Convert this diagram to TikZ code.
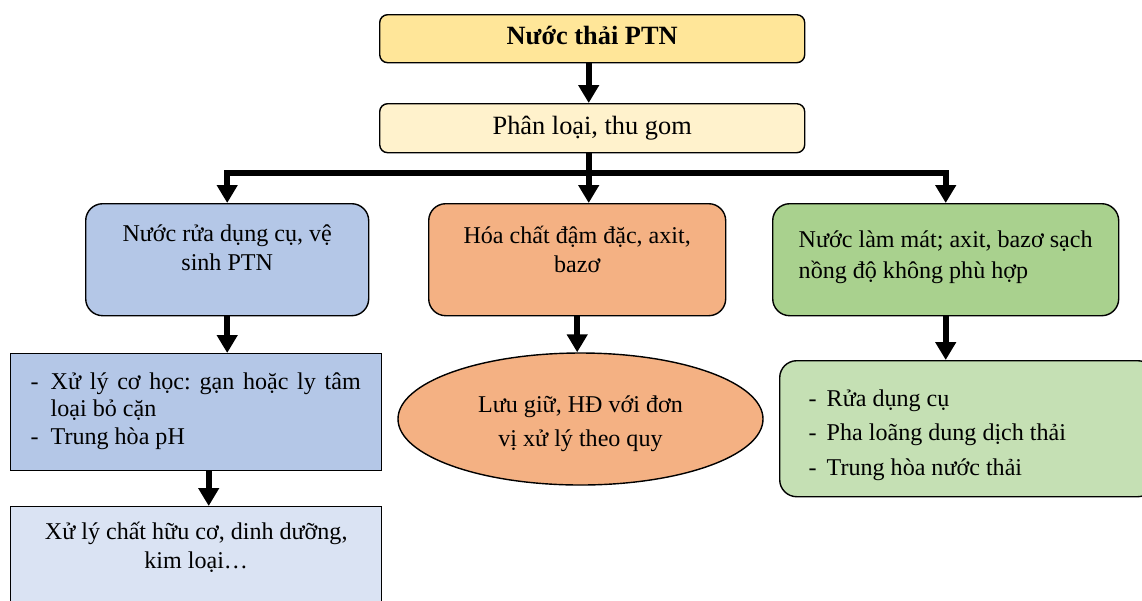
\documentclass[tikz,border=0pt]{standalone}
\usepackage{fontspec}
\setmainfont{Liberation Serif}
\usetikzlibrary{positioning, arrows.meta, calc, shapes.geometric}
\frenchspacing

\definecolor{titleyellow}{HTML}{FFE699}
\definecolor{paleyellow}{HTML}{FFF2CC}
\definecolor{washblue}{HTML}{B4C7E7}
\definecolor{paleblue}{HTML}{DAE3F3}
\definecolor{chemorange}{HTML}{F4B183}
\definecolor{coolgreen}{HTML}{A9D18E}
\definecolor{palegreen}{HTML}{C5E0B4}

% text of a box: width, height, first baseline, content
\newcommand{\boxtext}[4]{\parbox[c][#2][t]{#1}{\vspace*{\dimexpr#3-\baselineskip\relax}\prevdepth=0pt #4}}
% one line of a dash list
\newcommand{\dashitem}[2][0.4cm]{\par\hangindent=#1\noindent\makebox[#1][l]{-}#2}

\begin{document}
\begin{tikzpicture}[
        panel/.style={draw, line width=0.8pt, inner sep=0pt, anchor=north west},
        flow/.style={-{Triangle[length=0.36cm, width=0.4cm]}, line width=3.5pt},
        font=\fontsize{13.7}{16.5}\selectfont
    ]
        \useasboundingbox (0,0) rectangle (22.84,-12);

        % Top: waste water, sorting
        \node[panel, rounded corners=0.16cm, fill=titleyellow, font=\fontsize{15}{16.5}\selectfont] (top) at (7.58,-0.28)
            {\boxtext{8.5cm}{0.96cm}{0.6cm}{\centering\bfseries Nước thải PTN}};
        \node[panel, rounded corners=0.16cm, fill=paleyellow, font=\fontsize{15}{16.5}\selectfont] (sort) at (7.58,-2.06)
            {\boxtext{8.5cm}{0.98cm}{0.62cm}{\centering Phân loại, thu gom}};

        % Three kinds of waste water
        \node[panel, rounded corners=0.34cm, fill=washblue] (rinse) at (1.7,-4.06)
            {\boxtext{5.66cm}{2.24cm}{0.75cm}{\centering Nước rửa dụng cụ, vệ\\ sinh PTN}};
        \node[panel, rounded corners=0.34cm, fill=chemorange] (conc) at (8.56,-4.06)
            {\boxtext{5.94cm}{2.24cm}{0.79cm}{\centering Hóa chất đậm đặc, axit,\\ bazơ}};
        \node[panel, rounded corners=0.34cm, fill=coolgreen, font=\fontsize{13.7}{17.6}\selectfont] (cool) at (15.44,-4.06)
            {\boxtext{6.92cm}{2.24cm}{0.87cm}{\raggedright\leftskip=0.52cm Nước làm mát; axit, bazơ sạch\\ nồng độ không phù hợp}};

        % Left column: treatment
        \node[panel, fill=washblue, font=\fontsize{13.7}{15.6}\selectfont] (mech) at (0.2,-7.06)
            {\boxtext{7.42cm}{2.34cm}{0.71cm}{\leftskip=0.4cm \rightskip=0.42cm
                \dashitem{Xử lý cơ học: gạn hoặc ly tâm\linebreak loại bỏ cặn}
                \dashitem{Trung hòa pH}}};
        \node[panel, fill=paleblue] (organic) at (0.2,-10.12)
            {\boxtext{7.42cm}{2.6cm}{0.65cm}{\centering Xử lý chất hữu cơ, dinh dưỡng,\\ kim loại…}};

        % Middle: storage
        \node[ellipse, draw, line width=0.8pt, fill=chemorange, minimum width=7.3cm, minimum height=2.64cm,
              inner sep=0pt, font=\fontsize{13.7}{19.8}\selectfont] (store) at (11.61,-8.38)
            {\boxtext{5cm}{1.8cm}{0.76cm}{\centering Lưu giữ, HĐ với đơn\\ vị xử lý theo quy}};

        % Right: reuse
        \node[panel, rounded corners=0.34cm, fill=palegreen, font=\fontsize{13.7}{19.5}\selectfont] (reuse) at (15.58,-7.2)
            {\boxtext{7.5cm}{2.72cm}{0.92cm}{\leftskip=0.58cm
                \dashitem[0.36cm]{Rửa dụng cụ}
                \dashitem[0.36cm]{Pha loãng dung dịch thải}
                \dashitem[0.36cm]{Trung hòa nước thải}}};

        % Connections
        \coordinate (split) at ($(sort.south)+(-0.07,-0.4)$);
        \draw[flow] ([xshift=-0.07cm]top.south) -- ([xshift=-0.07cm]sort.north);
        \draw[flow] ([xshift=-0.07cm]sort.south) -- (split |- conc.north);
        \draw[flow] (split) -| (rinse.north);
        \draw[flow] (split) -| (cool.north);
        \draw[flow] (rinse.south) -- (rinse.south |- mech.north);
        \draw[flow] ([xshift=0.25cm]mech.south) -- ([xshift=0.25cm]organic.north);
        \draw[flow] (conc.south) -- (conc.south |- store.north);
        \draw[flow] (cool.south) -- (cool.south |- reuse.north);
    \end{tikzpicture}
\end{document}
